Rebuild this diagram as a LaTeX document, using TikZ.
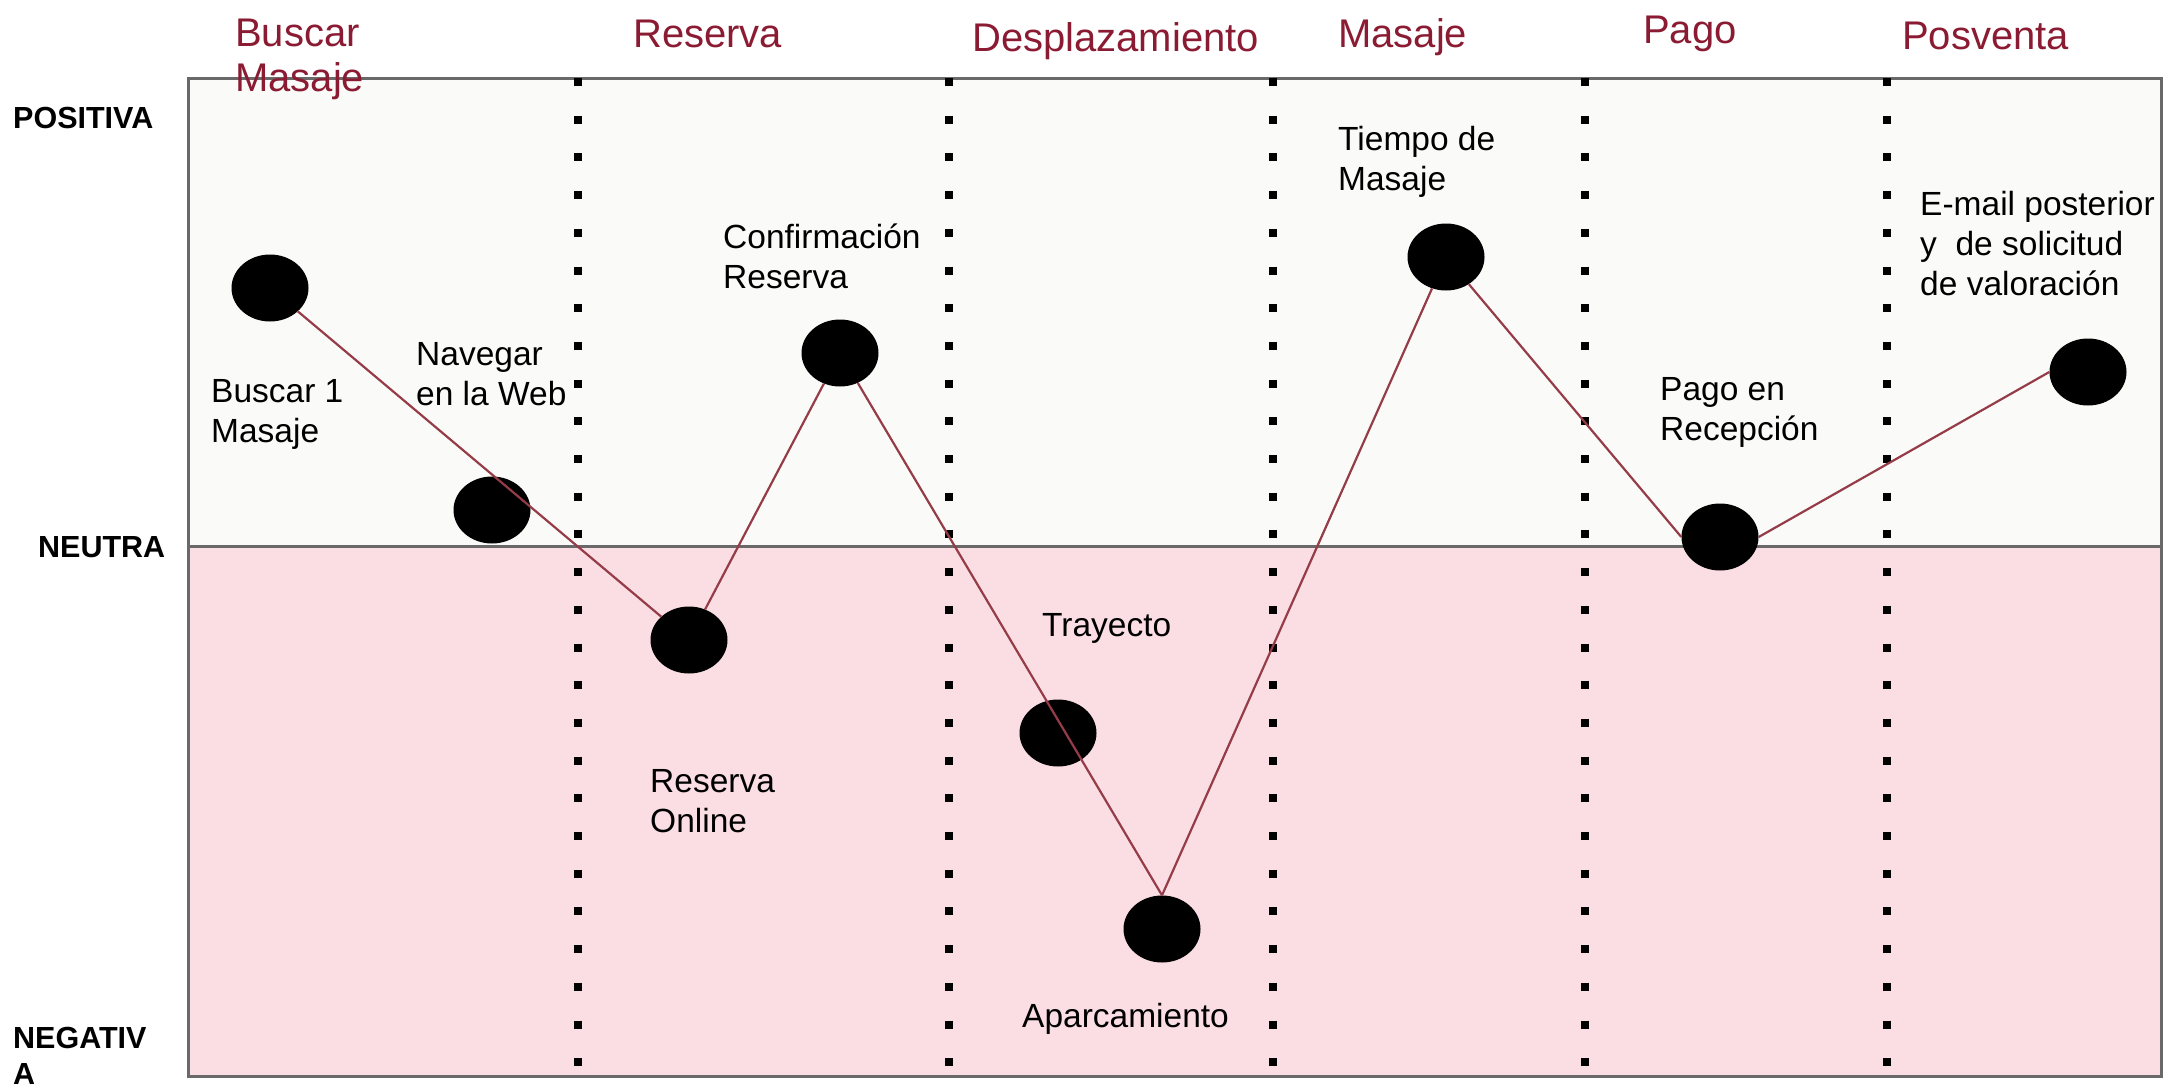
\documentclass[tikz,border=0pt]{standalone}
\usepackage{fontspec}
\setmainfont{Liberation Sans}
\usetikzlibrary{shapes.geometric}
\definecolor{hdr}{RGB}{138,27,50}
\definecolor{conn}{RGB}{150,60,72}
\definecolor{posfill}{RGB}{250,251,248}
\definecolor{negfill}{RGB}{250,222,228}
\definecolor{framegray}{RGB}{105,105,105}
\begin{document}
\begin{tikzpicture}[x=1pt,y=-1pt,
  blob/.style={ellipse, fill=black, minimum width=77pt, minimum height=67pt, inner sep=0pt},
  hdrtext/.style={anchor=base west, text=hdr, font=\fontsize{40}{45}\selectfont, align=left, inner sep=0pt},
  lbl/.style={anchor=base west, font=\fontsize{33.5}{40}\selectfont, align=left, inner sep=0pt},
  axislbl/.style={anchor=base west, font=\bfseries\fontsize{30.5}{36}\selectfont, align=left, inner sep=0pt},
  sepline/.style={line width=8pt, dash pattern=on 8pt off 29.7pt},
  link/.style={draw=conn, line width=2.2pt},
  frameline/.style={draw=framegray, line width=3pt}]
\useasboundingbox (0,0) rectangle (2168,1089);
% regions
\fill[posfill] (188,79) rectangle (2161,546);
\fill[negfill] (188,546) rectangle (2161,1076);
\draw[frameline] (188,79) rectangle (2161,1076);
\draw[frameline] (188,546) -- (2161,546);
% stage separators
\foreach \xx in {578,949,1273,1585,1887}
  \draw[sepline] (\xx,78) -- (\xx,1076);
% points
\node[blob] (c1) at (270,288) {};
\node[blob] (c2) at (492,510) {};
\node[blob] (c3) at (689,640) {};
\node[blob] (c4) at (840,353) {};
\node[blob] (c5) at (1058,733) {};
\node[blob] (c6) at (1162,929) {};
\node[blob] (c7) at (1446,257) {};
\node[blob] (c8) at (1720,537) {};
\node[blob] (c9) at (2088,372) {};
% connectors
\draw[link] (c1) -- (c3);
\draw[link] (c3) -- (c4);
\draw[link] (c4) -- (c6.north);
\draw[link] (c6.north) -- (c7);
\draw[link] (c7) -- (c8.west);
\draw[link] (c8.east) -- (c9.west);
% headers (base = baseline of last line)
\node[hdrtext] (h1) at (235,92) {Buscar\\Masaje};
\node[hdrtext] (h2) at (633,48) {Reserva};
\node[hdrtext] (h3) at (972,52) {Desplazamiento};
\node[hdrtext] (h4) at (1338,48) {Masaje};
\node[hdrtext] (h5) at (1643,44) {Pago};
\node[hdrtext] (h6) at (1902,50) {Posventa};
% axis labels
\node[axislbl] (pos) at (13,129) {POSITIVA};
\node[axislbl] (neu) at (38,557) {NEUTRA};
\node[axislbl] (neg) at (13,1084) {NEGATIV\\A};
% point labels
\node[lbl] (t1) at (211,442) {Buscar 1\\Masaje};
\node[lbl] (t2) at (416,405) {Navegar\\en la Web};
\node[lbl] (t4) at (723,288) {Confirmación\\Reserva};
\node[lbl] (t3) at (650,832) {Reserva\\Online};
\node[lbl] (t5) at (1042,636) {Trayecto};
\node[lbl] (t6) at (1022,1027) {Aparcamiento};
\node[lbl] (t7) at (1338,190) {Tiempo de\\Masaje};
\node[lbl] (t8) at (1660,440) {Pago en\\Recepción};
\node[lbl] (t9) at (1920,295) {E-mail posterior\\y~ de solicitud\\de valoración};
\end{tikzpicture}
\end{document}
